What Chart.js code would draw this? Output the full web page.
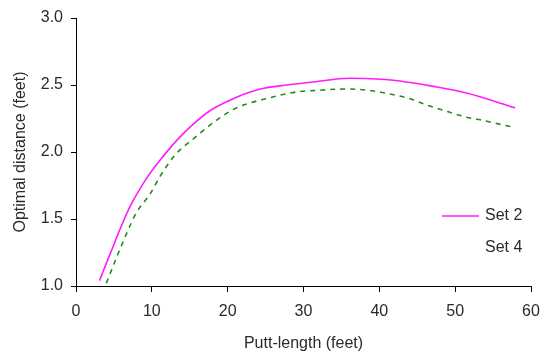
<!DOCTYPE html>
<html>
<head>
<meta charset="utf-8">
<script src="https://cdn.jsdelivr.net/npm/chart.js@4"></script>
<style>
  html, body { margin: 0; padding: 0; background: #fff; }
  #wrap { width: 542px; height: 356px; position: relative; }
</style>
</head>
<body>
<div id="wrap"><canvas id="c" width="542" height="356"></canvas></div>
<script>
const xTicks = [0, 10, 20, 30, 40, 50, 60];
const yTicks = [1.0, 1.5, 2.0, 2.5, 3.0];

const set2X = [3.1, 4.5, 7.1, 9.5, 11.1, 13.5, 15.5, 17.7, 20.8, 24.3, 27.8, 30.9, 36.1, 39.7, 42.7, 47.1, 51.5, 57.9];
const set2Y = [1.04, 1.24, 1.59, 1.82, 1.94, 2.10, 2.21, 2.31, 2.40, 2.47, 2.50, 2.52, 2.55, 2.545, 2.53, 2.49, 2.44, 2.33];

const set4X = [4.0, 5.4, 7.9, 9.8, 11.1, 13.1, 15.5, 18.6, 21.2, 25.2, 29.3, 31.8, 35.7, 38.6, 41.2, 43.9, 46.3, 49.1, 51.5, 53.3, 55.7, 57.3];
const set4Y = [1.02, 1.22, 1.54, 1.69, 1.82, 1.98, 2.10, 2.24, 2.33, 2.40, 2.45, 2.46, 2.47, 2.46, 2.435, 2.40, 2.35, 2.30, 2.26, 2.24, 2.21, 2.19];

const toPts = (xs, ys) => xs.map((x, i) => ({ x: x, y: ys[i] }));

const FONT = 'Arial, "Liberation Sans", sans-serif';

const legendPlugin = {
  id: 'customLegend',
  afterDraw(chart) {
    const ctx = chart.ctx;
    ctx.save();
    ctx.font = '16px ' + FONT;
    ctx.fillStyle = '#2a2a2a';
    ctx.textBaseline = 'middle';
    const rows = [216, 248];
    chart.data.datasets.forEach((ds, i) => {
      const y = rows[i];
      if (!ds.borderDash || ds.borderDash.length === 0) {
        ctx.strokeStyle = ds.borderColor;
        ctx.lineWidth = ds.borderWidth;
        ctx.beginPath();
        ctx.moveTo(442, y);
        ctx.lineTo(479, y);
        ctx.stroke();
      }
      ctx.fillText(ds.label, 485, y);
    });
    ctx.restore();
  }
};

new Chart(document.getElementById('c'), {
  type: 'line',
  data: {
    datasets: [
      {
        label: 'Set 2',
        data: toPts(set2X, set2Y),
        borderColor: '#ff1aff',
        borderWidth: 1.6,
        pointRadius: 0,
        tension: 0.4,
        cubicInterpolationMode: 'monotone',
        fill: false
      },
      {
        label: 'Set 4',
        data: toPts(set4X, set4Y),
        borderColor: '#1e8c1e',
        borderWidth: 1.6,
        borderDash: [5, 5],
        pointRadius: 0,
        tension: 0.4,
        cubicInterpolationMode: 'monotone',
        fill: false
      }
    ]
  },
  options: {
    responsive: false,
    animation: false,
    devicePixelRatio: 1,
    layout: { padding: { left: 0, right: 11, top: 18, bottom: 0 } },
    plugins: { legend: { display: false }, tooltip: { enabled: false } },
    scales: {
      x: {
        type: 'linear',
        min: 0, max: 60,
        afterBuildTicks: (s) => { s.ticks = xTicks.map(v => ({ value: v })); },
        afterFit: (s) => { s.height = 70; s.paddingRight = 0; s.paddingLeft = 0; },
        grid: { drawOnChartArea: false, drawTicks: true, tickLength: 6, color: '#000' },
        border: { display: true, color: '#000', width: 1 },
        ticks: { color: '#2a2a2a', font: { family: FONT, size: 16 }, padding: 10, maxRotation: 0,
                 callback: (v) => String(v) },
        title: { display: true, text: 'Putt-length (feet)', color: '#2a2a2a',
                 font: { family: FONT, size: 16 }, padding: { top: 0, bottom: 3 } }
      },
      y: {
        type: 'linear',
        min: 1, max: 3,
        afterBuildTicks: (s) => { s.ticks = yTicks.map(v => ({ value: v })); },
        afterFit: (s) => { s.width = 76; s.paddingTop = 0; s.paddingBottom = 0; },
        grid: { drawOnChartArea: false, drawTicks: true, tickLength: 5, color: '#000' },
        border: { display: true, color: '#000', width: 1 },
        ticks: { color: '#2a2a2a', font: { family: FONT, size: 16 }, padding: 8,
                 callback: (v) => Number(v).toFixed(1) },
        title: { display: true, text: 'Optimal distance (feet)', color: '#2a2a2a',
                 font: { family: FONT, size: 16 }, padding: { top: 11, bottom: 0 } }
      }
    }
  },
  plugins: [legendPlugin]
});
</script>
</body>
</html>
